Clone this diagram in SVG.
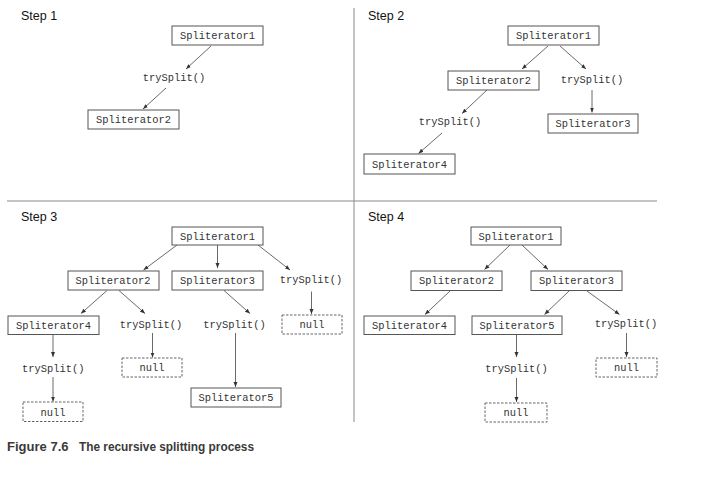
<svg xmlns="http://www.w3.org/2000/svg" width="722" height="482" viewBox="0 0 722 482">
<style>
.bg{fill:#fff}
.box rect{fill:#fff;stroke:#555;stroke-width:1}
.box.null rect{stroke-dasharray:2.5 1.5;stroke:#666}
.box text,.lbl text,text.lbl{font-family:"Liberation Mono",monospace;font-size:10.4px;fill:#333;text-anchor:middle}
.step{font-family:"Liberation Sans",Arial,sans-serif;font-size:12.5px;fill:#111}
.div{stroke:#8a8a8a;stroke-width:1}
#connectors line{stroke:#444;stroke-width:0.8;marker-end:url(#ah)}
.cap{font-family:"Liberation Sans",Arial,sans-serif;font-size:12px;font-weight:bold;fill:#3a3a3a}
</style>
<defs>
<marker id="ah" viewBox="0 0 10 10" refX="10" refY="5" markerWidth="5" markerHeight="5" markerUnits="userSpaceOnUse" orient="auto">
<path d="M0,1 L10,5 L0,9 z" fill="#333"/>
</marker>
</defs>
<rect class="bg" x="0" y="0" width="722" height="482"/>
<line class="div" x1="354" y1="8" x2="354" y2="422"/>
<line class="div" x1="7" y1="201" x2="657" y2="201"/>
<text class="step" x="21" y="20">Step 1</text>
<text class="step" x="368" y="20">Step 2</text>
<text class="step" x="21" y="221">Step 3</text>
<text class="step" x="368" y="221">Step 4</text>

<g id="connectors">
<line x1="211" y1="46" x2="186" y2="69"/>
<line x1="166" y1="88" x2="143" y2="109"/>
<line x1="548" y1="46" x2="522" y2="69"/>
<line x1="560" y1="46" x2="586" y2="69"/>
<line x1="592" y1="90" x2="592" y2="112.5"/>
<line x1="487" y1="90" x2="462" y2="113.5"/>
<line x1="442" y1="133" x2="418.5" y2="153.5"/>
<line x1="177" y1="245" x2="143.5" y2="270"/>
<line x1="217.5" y1="245" x2="217.5" y2="268"/>
<line x1="258" y1="245" x2="290" y2="270"/>
<line x1="107" y1="290.5" x2="81" y2="313.5"/>
<line x1="119" y1="290.5" x2="145" y2="313.5"/>
<line x1="224" y1="290.5" x2="250" y2="313.5"/>
<line x1="311.5" y1="291.5" x2="311.5" y2="314"/>
<line x1="53" y1="335" x2="53" y2="357"/>
<line x1="152.5" y1="333" x2="152.5" y2="357.5"/>
<line x1="235.5" y1="333" x2="235.5" y2="387"/>
<line x1="53" y1="377" x2="53" y2="401.5"/>
<line x1="510" y1="245" x2="484.5" y2="269.5"/>
<line x1="522" y1="245" x2="548" y2="269.5"/>
<line x1="450" y1="291" x2="425" y2="314.5"/>
<line x1="569" y1="291" x2="544.5" y2="314.5"/>
<line x1="587" y1="291" x2="619.5" y2="314.5"/>
<line x1="516.5" y1="335" x2="516.5" y2="357"/>
<line x1="626.5" y1="333" x2="626.5" y2="357"/>
<line x1="516.5" y1="378" x2="516.5" y2="402"/>
</g>

<!-- Step 1 -->
<g id="s1-spl1" class="box"><rect x="172" y="26" width="91" height="19"/><text x="217.5" y="39">Spliterator1</text></g>
<g id="s1-try1" class="lbl"><text x="174" y="81">trySplit()</text></g>
<g id="s1-spl2" class="box"><rect x="88" y="110" width="91" height="19"/><text x="133.5" y="123">Spliterator2</text></g>

<!-- Step 2 -->
<g id="s2-spl1" class="box"><rect x="508" y="26" width="91" height="19"/><text x="553.5" y="39">Spliterator1</text></g>
<g id="s2-spl2" class="box"><rect x="448" y="71" width="91" height="19"/><text x="493.5" y="84">Spliterator2</text></g>
<g id="s2-try1" class="lbl"><text x="592" y="83">trySplit()</text></g>
<g id="s2-spl3" class="box"><rect x="548" y="114" width="90" height="19"/><text x="593" y="127">Spliterator3</text></g>
<g id="s2-try2" class="lbl"><text x="450" y="125">trySplit()</text></g>
<g id="s2-spl4" class="box"><rect x="364" y="154" width="91" height="20"/><text x="409.5" y="168">Spliterator4</text></g>

<!-- Step 3 -->
<g id="s3-spl1" class="box"><rect x="172" y="227" width="91" height="18"/><text x="217.5" y="240">Spliterator1</text></g>
<g id="s3-spl2" class="box"><rect x="68" y="271" width="91" height="19"/><text x="113" y="284">Spliterator2</text></g>
<g id="s3-spl3" class="box"><rect x="172" y="271" width="91" height="19"/><text x="217.5" y="284">Spliterator3</text></g>
<g id="s3-try1" class="lbl"><text x="311" y="283">trySplit()</text></g>
<g id="s3-spl4" class="box"><rect x="8" y="316" width="91" height="18.5"/><text x="53.5" y="329">Spliterator4</text></g>
<g id="s3-try2" class="lbl"><text x="151" y="328">trySplit()</text></g>
<g id="s3-try3" class="lbl"><text x="234.5" y="328">trySplit()</text></g>
<g id="s3-null1" class="box null"><rect x="282" y="315" width="60" height="19"/><text x="312" y="328">null</text></g>
<g id="s3-try4" class="lbl"><text x="53.3" y="372">trySplit()</text></g>
<g id="s3-null2" class="box null"><rect x="122" y="358" width="60" height="19"/><text x="152" y="371">null</text></g>
<g id="s3-spl5" class="box"><rect x="191" y="388" width="90" height="19"/><text x="236" y="401">Spliterator5</text></g>
<g id="s3-null3" class="box null"><rect x="23" y="402" width="60" height="19.5"/><text x="53" y="416">null</text></g>

<!-- Step 4 -->
<g id="s4-spl1" class="box"><rect x="471" y="227" width="90" height="18"/><text x="516" y="240">Spliterator1</text></g>
<g id="s4-spl2" class="box"><rect x="411" y="271" width="91" height="19.5"/><text x="456.5" y="284">Spliterator2</text></g>
<g id="s4-spl3" class="box"><rect x="531" y="271" width="91" height="19.5"/><text x="576.5" y="284">Spliterator3</text></g>
<g id="s4-spl4" class="box"><rect x="364" y="316" width="91" height="18.5"/><text x="409.5" y="329">Spliterator4</text></g>
<g id="s4-spl5" class="box"><rect x="472" y="316" width="90" height="18.5"/><text x="517" y="329">Spliterator5</text></g>
<g id="s4-try1" class="lbl"><text x="626" y="327">trySplit()</text></g>
<g id="s4-try2" class="lbl"><text x="516.5" y="372">trySplit()</text></g>
<g id="s4-null1" class="box null"><rect x="596" y="358" width="61" height="19"/><text x="626.5" y="371">null</text></g>
<g id="s4-null2" class="box null"><rect x="485" y="403" width="62" height="19"/><text x="516" y="416">null</text></g>

<text class="cap" x="7" y="450.5" textLength="61.5" lengthAdjust="spacingAndGlyphs">Figure 7.6</text>
<text class="cap" x="79" y="450.5" textLength="175" lengthAdjust="spacingAndGlyphs">The recursive splitting process</text>
</svg>
